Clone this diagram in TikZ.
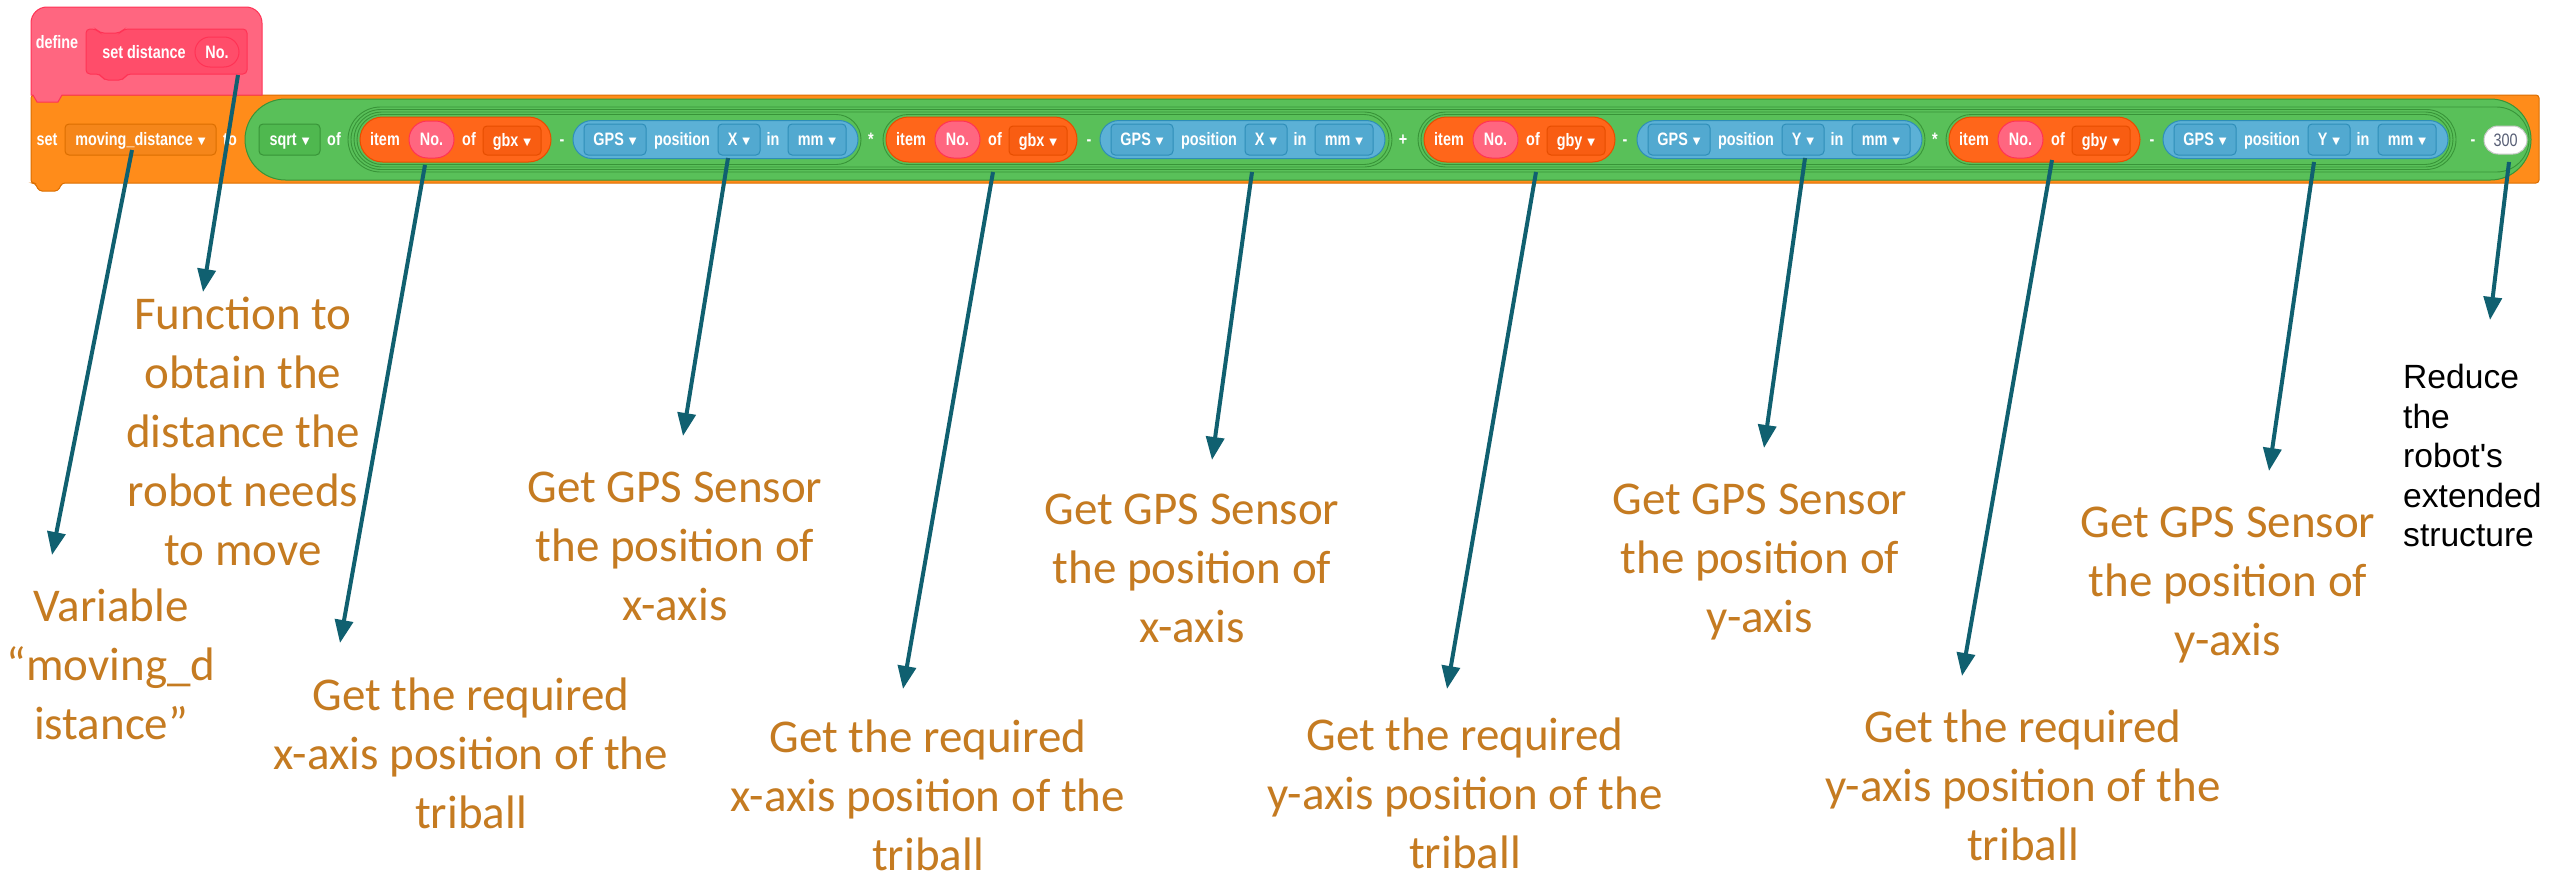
\documentclass[tikz,border=0pt]{standalone}
\usepackage{fontspec}
\setmainfont{Carlito}
\newfontfamily\annotfont{Carlito}
\newfontfamily\arialfont{Liberation Sans}
\newfontfamily\blkfont[FakeStretch=0.8]{Liberation Sans}
\newfontfamily\symfont{DejaVu Sans}
\usetikzlibrary{arrows.meta}
\definecolor{varorange}{HTML}{FF8C1A}
\definecolor{varstroke}{HTML}{DB6E00}
\definecolor{varddfill}{HTML}{F5861A}
\definecolor{hatpink}{HTML}{FF6680}
\definecolor{hatstroke}{HTML}{FF3355}
\definecolor{protopink}{HTML}{FF4D6A}
\definecolor{opgreen}{HTML}{59C059}
\definecolor{opstroke}{HTML}{389438}
\definecolor{opddfill}{HTML}{4FB84F}
\definecolor{listorange}{HTML}{FF661A}
\definecolor{liststroke}{HTML}{E64D00}
\definecolor{listddfill}{HTML}{F85D12}
\definecolor{sensblue}{HTML}{5CB1D6}
\definecolor{sensstroke}{HTML}{2E8EB8}
\definecolor{sensddfill}{HTML}{52A9D0}
\definecolor{numgrey}{HTML}{575E75}
\definecolor{arrowteal}{HTML}{106070}
\definecolor{annotc}{HTML}{C57B21}

\newcommand{\tri}{\hspace{5pt}\raisebox{1pt}{\symfont\fontsize{10}{10}\selectfont ▼}}

\tikzset{
  btxt/.style={font=\blkfont\bfseries\fontsize{18}{20}\selectfont, text=white, inner sep=0pt, text height=14pt, text depth=2pt},
  ddbox/.style 2 args={btxt, fill=#1, draw=#2, line width=1pt, rounded corners=4pt},
  noval/.style={btxt, fill=hatpink, draw=hatstroke, line width=1pt, rounded corners=18.5pt, minimum width=45pt, minimum height=37pt},
  argoval/.style={btxt, fill=protopink, draw=hatstroke, line width=1pt, rounded corners=15pt, minimum width=44pt, minimum height=30pt},
  numoval/.style={fill=white, draw=black!22, line width=1pt, rounded corners=14pt, minimum width=43pt, minimum height=28pt, inner sep=0pt, font=\blkfont\fontsize{18}{20}\selectfont, text=numgrey, text height=14pt, text depth=2pt},
  ring/.style={fill=opgreen, draw=opstroke, line width=0.9pt},
  arr/.style={draw=arrowteal, line width=4pt, -{Triangle[length=23pt,width=18pt]}},
  annot/.style={font=\annotfont\fontsize{47}{59}\selectfont, text=annotc, align=center, inner sep=0pt},
  blacknote/.style={font=\arialfont\fontsize{33.6}{39.5}\selectfont, text=black, align=left, inner sep=0pt, anchor=west}
}

\newcommand{\itemblock}[3]{%
  \draw[fill=listorange, draw=liststroke, line width=1pt, rounded corners=22.5pt] (#1,117) rectangle ({#1+191},162);
  \node[btxt] (#2-item) at ({#1+25},139.5) {item};
  \node[noval] (#2-no) at ({#1+71.5},139.5) {No.};
  \node[btxt] (#2-of) at ({#1+109},139.5) {of};
  \node[ddbox={listddfill}{liststroke}, minimum width=58pt, minimum height=29pt] (#2-list) at ({#1+152},140.5) {#3\tri};
}
\newcommand{\gpsblock}[3]{%
  \draw[fill=sensblue, draw=sensstroke, line width=1pt, rounded corners=19pt] (#1,120.5) rectangle ({#1+285},158.5);
  \node[ddbox={sensddfill}{sensstroke}, minimum width=62pt, minimum height=31pt] (#2-gps) at ({#1+42},139.5) {GPS\tri};
  \node[btxt] (#2-pos) at ({#1+109},139.5) {position};
  \node[ddbox={sensddfill}{sensstroke}, minimum width=42pt, minimum height=31pt] (#2-axis) at ({#1+166},139.5) {#3\tri};
  \node[btxt] (#2-in) at ({#1+200},139.5) {in};
  \node[ddbox={sensddfill}{sensstroke}, minimum width=58pt, minimum height=31pt] (#2-unit) at ({#1+244},139.5) {mm\tri};
}

\begin{document}
\begin{tikzpicture}[x=1pt,y=-1pt]
\fill[white] (0,0) rectangle (2552,878);
\useasboundingbox (0,0) rectangle (2552,878);

% set block (orange)
\draw[fill=varorange, draw=varstroke, line width=1pt, rounded corners=3pt]
  (31,95) -- (2539,95) -- (2539,183) -- (62,183) -- (58,191) -- (39,191) -- (35,183) -- (31,183) -- cycle;

% define hat (pink)
\draw[fill=hatpink, draw=hatstroke, line width=1pt]
  (31,95) -- (31,23) arc[start angle=180, end angle=90, radius=16pt] -- (246,7)
  arc[start angle=90, end angle=0, radius=16pt] -- (262,95) -- (62,95) -- (58,102) -- (37,102) -- (33,95) -- cycle;
\draw[fill=protopink, draw=hatstroke, line width=1pt, rounded corners=4pt]
  (86,29) -- (96,29) -- (100,33) -- (120,33) -- (124,29) -- (247,29) -- (247,74) -- (127,74) -- (123,80) -- (104,80) -- (100,74) -- (86,74) -- cycle;
\node[btxt] (define) at (57,42) {define};
\node[btxt] (setdist) at (144,52) {set distance};
\node[argoval] (arg) at (217,52) {No.};

% set ... to
\node[btxt] (settxt) at (47,139.5) {set};
\node[ddbox={varddfill}{varstroke}, minimum width=151pt, minimum height=31pt] (vardd) at (140.5,139.5) {moving\_distance\tri};
\node[btxt] (totxt) at (230,139.5) {to};

% sqrt block
\draw[fill=opgreen, draw=opstroke, line width=1pt, rounded corners=40.5pt] (245,99) rectangle (2531,180);
\node[ddbox={opddfill}{opstroke}, minimum width=61pt, minimum height=31pt] (sqrtdd) at (289.5,139.5) {sqrt\tri};
\node[btxt] (oftxt) at (334,139.5) {of};

% nested operator rings
\draw[ring, rounded corners=32.5pt] (348,107) rectangle (2529,172);
\draw[ring, rounded corners=30pt] (351,109.5) rectangle (2456,169.5);
\draw[ring, rounded corners=27.5pt] (354,112) rectangle (1392,167);
\draw[ring, rounded corners=27.5pt] (1418,112) rectangle (2453,167);
\draw[ring, rounded corners=25pt] (357,114.5) rectangle (861,164.5);
\draw[ring, rounded corners=25pt] (883,114.5) rectangle (1389,164.5);
\draw[ring, rounded corners=25pt] (1421,114.5) rectangle (1925,164.5);
\draw[ring, rounded corners=25pt] (1946,114.5) rectangle (2450,164.5);

\itemblock{360}{i1}{gbx}
\itemblock{886}{i2}{gbx}
\itemblock{1424}{i3}{gby}
\itemblock{1949}{i4}{gby}
\gpsblock{573}{g1}{X}
\gpsblock{1100}{g2}{X}
\gpsblock{1637}{g3}{Y}
\gpsblock{2163}{g4}{Y}

\node[btxt] (op1) at (562,139.5) {-};
\node[btxt] (op2) at (871,139.5) {*};
\node[btxt] (op3) at (1089,139.5) {-};
\node[btxt] (op4) at (1403,139.5) {+};
\node[btxt] (op5) at (1625,139.5) {-};
\node[btxt] (op6) at (1935,139.5) {*};
\node[btxt] (op7) at (2152,139.5) {-};
\node[btxt] (op8) at (2473,139.5) {-};
\node[numoval] (num) at (2505.5,140) {300};

% annotations
\node[annot] (tfunc) at (243,436) {\strut Function to\\obtain the\\distance the\\robot needs\\to move\strut};
\node[annot] (tvar) at (111,669) {\strut Variable\\“moving\_d\\istance”\strut};
\node[annot] (treqa) at (471,758) {\strut Get the required\\x-axis position of the\\triball\strut};
\node[annot] (tgpsa) at (675,550) {\strut Get GPS Sensor\\the position of\\x-axis\strut};
\node[annot] (treqb) at (928,800) {\strut Get the required\\x-axis position of the\\triball\strut};
\node[annot] (tgpsb) at (1192,572) {\strut Get GPS Sensor\\the position of\\x-axis\strut};
\node[annot] (treqc) at (1465,798) {\strut Get the required\\y-axis position of the\\triball\strut};
\node[annot] (tgpsc) at (1760,562) {\strut Get GPS Sensor\\the position of\\y-axis\strut};
\node[annot] (treqd) at (2023,790) {\strut Get the required\\y-axis position of the\\triball\strut};
\node[annot] (tgpsd) at (2228,585) {\strut Get GPS Sensor\\the position of\\y-axis\strut};
\node[blacknote] (treduce) at (2403,460) {\strut Reduce\\the\\robot\textquotesingle s\\extended\\structure\strut};

% arrows
\coordinate (a1s) at (132,150);  \coordinate (a1e) at (52,555);
\coordinate (a2s) at (238,75);   \coordinate (a2e) at (203,292);
\coordinate (a3s) at (425,165);  \coordinate (a3e) at (340,643);
\coordinate (a4s) at (728,158);  \coordinate (a4e) at (683,436);
\coordinate (a5s) at (993,172);  \coordinate (a5e) at (903,689);
\coordinate (a6s) at (1252,172); \coordinate (a6e) at (1212,460);
\coordinate (a7s) at (1536,172); \coordinate (a7e) at (1447,689);
\coordinate (a8s) at (1805,158); \coordinate (a8e) at (1764,448);
\coordinate (a9s) at (2052,160); \coordinate (a9e) at (1962,676);
\coordinate (a10s) at (2314,162); \coordinate (a10e) at (2269,471);
\coordinate (a11s) at (2509,162); \coordinate (a11e) at (2490,320);
\foreach \i in {1,...,11} { \draw[arr] (a\i s) -- (a\i e); }
\end{tikzpicture}
\end{document}
